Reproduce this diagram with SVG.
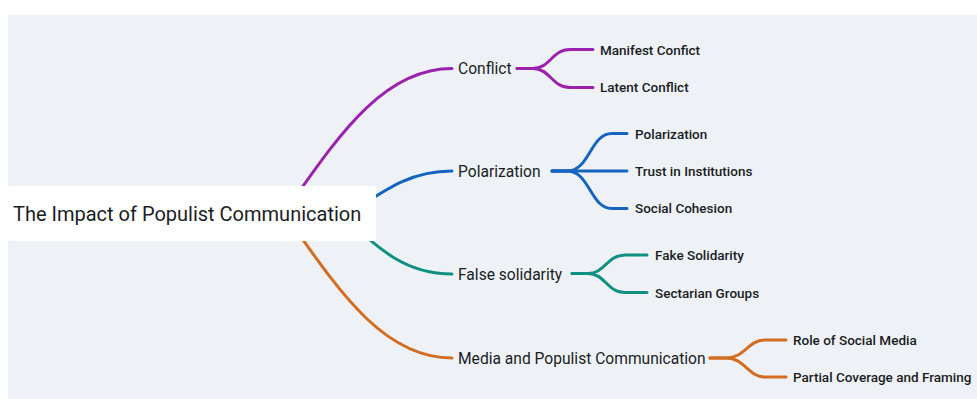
<svg xmlns="http://www.w3.org/2000/svg" width="977" height="399" viewBox="0 0 977 399">
<style>
.bg{fill:#eef2f6}
.c{fill:none;stroke-width:3;stroke-linecap:round;stroke-linejoin:round}
.pu{stroke:#9c22ae}
.bl{stroke:#1565c0}
.te{stroke:#0f9080}
.or{stroke:#d26d22}
text{font-family:Roboto,"Liberation Sans",sans-serif;fill:#1a1d24}
.root{font-size:20px}
.l1{font-size:15.6px}
.l2{font-size:13.5px;font-weight:500}
</style>
<rect x="0" y="0" width="977" height="399" fill="#ffffff"/>
<rect class="bg" x="8" y="15" width="969" height="384"/>
<g id="connectors">
<path class="c pu" d="M284 213 C334 143 380 68.5 452 68.5"/>
<path class="c bl" d="M350 213 C385 190 410 171 452 171"/>
<path class="c te" d="M340 213 C380 250 405 274 452 274"/>
<path class="c or" d="M284 213 C334 283 380 358 452 358"/>
<path class="c pu" d="M517 68.5 H533 C550 68.5 552 49.5 570 49.5 H593"/>
<path class="c pu" d="M517 68.5 H533 C550 68.5 552 87.5 570 87.5 H593"/>
<path class="c bl" d="M552 171 H567 C590 171 590 133.5 612 133.5 H627"/>
<path class="c bl" d="M552 171 H627"/>
<path class="c bl" d="M552 171 H567 C590 171 590 208.5 612 208.5 H627"/>
<path class="c te" d="M572 273.5 H588 C605 273.5 607 255 625 255 H647"/>
<path class="c te" d="M572 273.5 H588 C605 273.5 607 292.5 625 292.5 H647"/>
<path class="c or" d="M710 358 H726 C745 358 748 340 765 340 H786"/>
<path class="c or" d="M710 358 H726 C745 358 748 377 765 377 H786"/>
</g>
<g id="root">
<rect x="8" y="186" width="368" height="55" rx="3" fill="#ffffff"/>
<text class="root" x="13" y="220.5">The Impact of Populist Communication</text>
</g>
<g id="conflict"><text class="l1" x="458" y="74">Conflict</text></g>
<g id="manifest"><text class="l2" x="600" y="54.5">Manifest Confict</text></g>
<g id="latent"><text class="l2" x="600" y="92">Latent Conflict</text></g>
<g id="polarization"><text class="l1" x="458" y="176.5">Polarization</text></g>
<g id="polarization2"><text class="l2" x="635" y="138.5">Polarization</text></g>
<g id="trust"><text class="l2" x="635" y="176">Trust in Institutions</text></g>
<g id="cohesion"><text class="l2" x="635" y="213.3">Social Cohesion</text></g>
<g id="false-solidarity"><text class="l1" x="458" y="279.5">False solidarity</text></g>
<g id="fake"><text class="l2" x="655" y="260">Fake Solidarity</text></g>
<g id="sectarian"><text class="l2" x="655" y="297.5">Sectarian Groups</text></g>
<g id="media"><text class="l1" x="458" y="364">Media and Populist Communication</text></g>
<g id="social-media"><text class="l2" x="793" y="345">Role of Social Media</text></g>
<g id="partial"><text class="l2" x="793" y="382">Partial Coverage and Framing</text></g>
</svg>
